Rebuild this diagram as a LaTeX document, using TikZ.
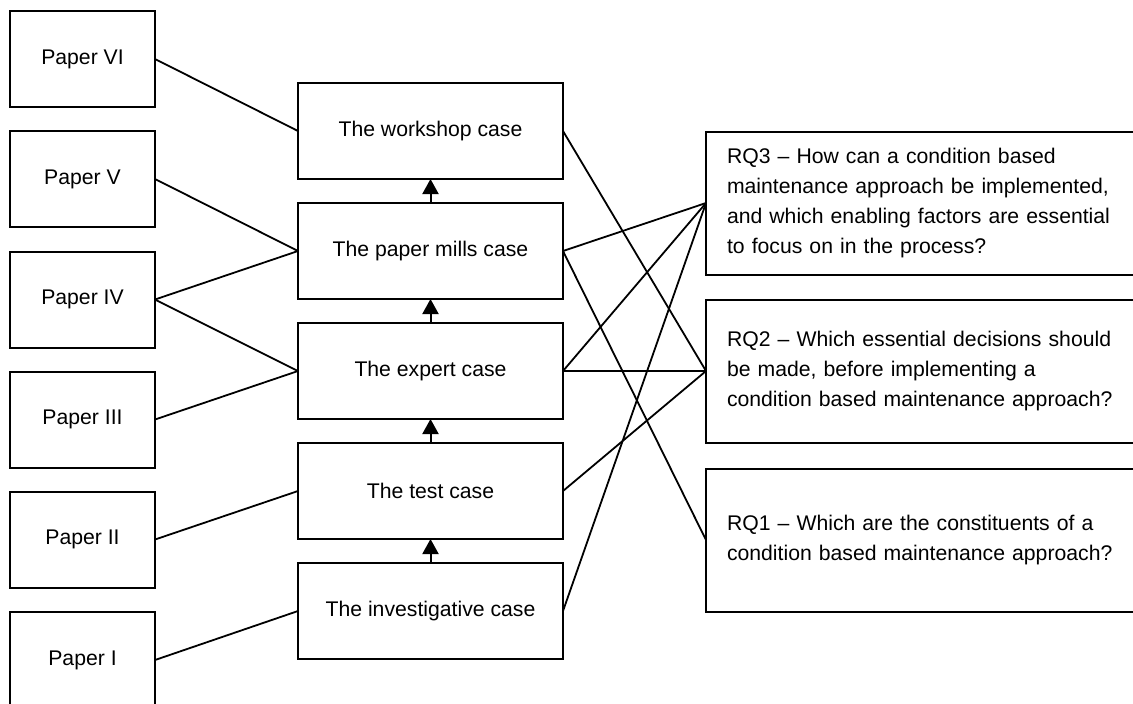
\documentclass[tikz,border=0pt]{standalone}
\usepackage{fontspec}
\setmainfont{Liberation Sans}
\usetikzlibrary{arrows.meta}
\begin{document}
\begin{tikzpicture}[x=0.5pt,y=-0.5pt,
  box/.style={draw, line width=1pt, inner sep=0pt, outer sep=0pt,
    font=\fontsize{10.6}{15}\selectfont},
  paper/.style={box, minimum width=72.5pt, minimum height=48pt},
  casebox/.style={box, minimum width=132.5pt, minimum height=48pt},
  rq/.style={box, anchor=west, inner xsep=10.5pt, text width=219pt,
    align=left, minimum height=71.5pt},
  link/.style={line width=0.9pt},
  uparrow/.style={line width=1pt, -{Triangle[width=8pt,length=7.5pt]}}
]
\useasboundingbox (0,0) rectangle (1133,703);
\clip (0,0) rectangle (1133,703);

% papers
\node[paper] (p6) at (82.5,59)  {Paper VI};
\node[paper] (p5) at (82.5,179) {Paper V};
\node[paper] (p4) at (82.5,299.5) {Paper IV};
\node[paper] (p3) at (82.5,419.5) {Paper III};
\node[paper] (p2) at (82.5,539.5) {Paper II};
\node[paper] (p1) at (82.5,660) {Paper I};

% cases
\node[casebox] (ws) at (430.5,131) {The workshop case};
\node[casebox] (pm) at (430.5,251) {The paper mills case};
\node[casebox] (ex) at (430.5,371) {The expert case};
\node[casebox] (te) at (430.5,491) {The test case};
\node[casebox] (in) at (430.5,611) {The investigative case};

% research questions
\node[rq] (rq3) at (706,203) {RQ3 -- How can a condition based\\maintenance approach be implemented,\\and which enabling factors are essential\\to focus on in the process?};
\node[rq] (rq2) at (706,371) {RQ2 -- Which essential decisions should\\be made, before implementing a\\condition based maintenance approach?};
\node[rq] (rq1) at (706,540) {RQ1 -- Which are the constituents of a\\condition based maintenance approach?};

% case sequence
\draw[uparrow] (pm.north) -- (ws.south);
\draw[uparrow] (ex.north) -- (pm.south);
\draw[uparrow] (te.north) -- (ex.south);
\draw[uparrow] (in.north) -- (te.south);

% papers to cases
\draw[link] (p6.east) -- (ws.west);
\draw[link] (p5.east) -- (pm.west);
\draw[link] (p4.east) -- (pm.west);
\draw[link] (p4.east) -- (ex.west);
\draw[link] (p3.east) -- (ex.west);
\draw[link] (p2.east) -- (te.west);
\draw[link] (p1.east) -- (in.west);

% cases to research questions
\draw[link] (ws.east) -- (rq2.west);
\draw[link] (pm.east) -- (rq3.west);
\draw[link] (pm.east) -- (rq1.west);
\draw[link] (ex.east) -- (rq3.west);
\draw[link] (ex.east) -- (rq2.west);
\draw[link] (te.east) -- (rq2.west);
\draw[link] (in.east) -- (rq3.west);
\end{tikzpicture}
\end{document}
